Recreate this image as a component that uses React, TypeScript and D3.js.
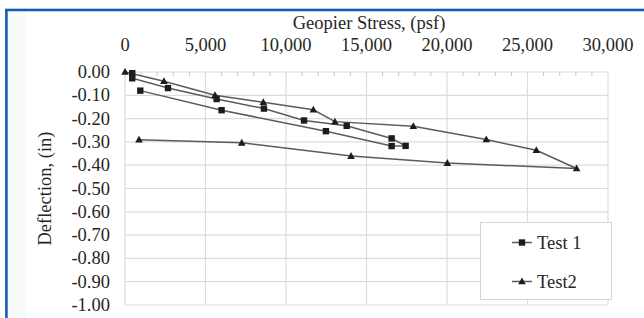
import React from "react";
import * as d3 from "d3";

const xTicks = [0, 5000, 10000, 15000, 20000, 25000, 30000];
const yTicks = [0, -0.1, -0.2, -0.3, -0.4, -0.5, -0.6, -0.7, -0.8, -0.9, -1.0];

const seriesNames = ["Test 1", "Test2"];
const test1Stress = [450, 450, 2670, 5690, 8630, 11120, 13770, 16560, 17430, 16560, 12480, 6000, 950];
const test1Defl = [-0.005, -0.027, -0.069, -0.116, -0.157, -0.208, -0.231, -0.285, -0.317, -0.318, -0.254, -0.164, -0.08];
const test2Stress = [0, 2420, 5590, 8590, 11700, 13040, 17910, 22440, 25550, 28050, 20020, 14040, 7250, 870];
const test2Defl = [0, -0.04, -0.1, -0.13, -0.162, -0.213, -0.233, -0.29, -0.336, -0.414, -0.391, -0.361, -0.304, -0.291];

const W = 644;
const H = 318;
const FONT = "'Liberation Serif', 'Times New Roman', serif";

export default function App() {
  const x = d3.scaleLinear().domain([0, 30000]).range([125, 608]);
  const y = d3.scaleLinear().domain([0, -1]).range([72, 305]);
  const fmt = d3.format(",");
  const yFmt = (t: number) => d3.format(".2f")(t).replace("\u2212", "-");
  const minor = d3.range(0, 30001, 1000).filter((v) => v % 5000 !== 0);

  const s1 = test1Stress.map((v, i) => [v, test1Defl[i]] as [number, number]);
  const s2 = test2Stress.map((v, i) => [v, test2Defl[i]] as [number, number]);
  const line = d3
    .line<[number, number]>()
    .x((d) => x(d[0]))
    .y((d) => y(d[1]));

  const lineColor = "#5b5b5b";
  const markColor = "#1c1c1c";
  const grid = "#dcdcdc";
  const txt = "#262626";

  const square = (cx: number, cy: number, k: string) => (
    <rect key={k} x={cx - 3.2} y={cy - 3.2} width={6.4} height={6.4} fill={markColor} />
  );
  const tri = (cx: number, cy: number, k: string) => (
    <path key={k} d={`M${cx},${cy - 4} L${cx + 3.8},${cy + 2.8} L${cx - 3.8},${cy + 2.8} Z`} fill={markColor} />
  );

  const lgX = 480.5;
  const lgY = 222.5;

  return (
    <svg
      width={W}
      height={H}
      style={{ position: "fixed", left: 0, top: 0, background: "#fff" }}
      fontFamily={FONT}
    >
      <rect x={0} y={0} width={W} height={H} fill="#fff" />
      <rect x={8} y={11} width={18} height={H - 11} fill="#f9fafc" />
      {/* blue frame */}
      <line x1={5} x2={W} y1={8.8} y2={8.8} stroke="#9db8dc" strokeWidth={1} />
      <line x1={5} x2={W} y1={10.2} y2={10.2} stroke="#0f5db4" strokeWidth={2.2} />
      <line x1={6.4} x2={6.4} y1={9} y2={H} stroke="#0f5db4" strokeWidth={2.6} />

      {/* gridlines */}
      {yTicks.map((t) => (
        <line key={"hy" + t} x1={x(0)} x2={x(30000)} y1={y(t)} y2={y(t)} stroke={grid} strokeWidth={1.2} />
      ))}
      {xTicks.map((t) => (
        <line key={"vx" + t} x1={x(t)} x2={x(t)} y1={y(0)} y2={y(-1)} stroke={grid} strokeWidth={1.2} />
      ))}
      {minor.map((t) => (
        <line key={"mx" + t} x1={x(t)} x2={x(t)} y1={y(0)} y2={y(0) + 4} stroke="#c8c8c8" strokeWidth={1} />
      ))}

      {/* x tick labels (top) */}
      {xTicks.map((t) => (
        <text key={"xl" + t} x={x(t)} y={51} textAnchor="middle" fontSize={18.5} fill={txt}>
          {fmt(t)}
        </text>
      ))}
      <text x={369} y={29} textAnchor="middle" fontSize={18.5} fill={txt}>
        Geopier Stress, (psf)
      </text>

      {/* y tick labels */}
      {yTicks.map((t) => (
        <text key={"yl" + t} x={110} y={y(t) + 6} textAnchor="end" fontSize={18.5} fill={txt}>
          {t === 0 ? "0.00" : yFmt(t)}
        </text>
      ))}
      <text
        transform={`translate(51, ${(y(0) + y(-1)) / 2}) rotate(-90)`}
        textAnchor="middle"
        fontSize={18.5}
        fill={txt}
      >
        Deflection, (in)
      </text>

      {/* series */}
      <path d={line(s1) || ""} fill="none" stroke={lineColor} strokeWidth={1.5} />
      <path d={line(s2) || ""} fill="none" stroke={lineColor} strokeWidth={1.5} />
      {s1.map((d, i) => square(x(d[0]), y(d[1]), "s" + i))}
      {s2.map((d, i) => tri(x(d[0]), y(d[1]), "t" + i))}

      {/* legend */}
      <rect x={lgX} y={lgY} width={131} height={77} fill="#fff" stroke="#d6d6d6" strokeWidth={1} />
      <line x1={512} x2={532} y1={242.5} y2={242.5} stroke={lineColor} strokeWidth={1.5} />
      {square(522, 242.5, "ls")}
      <text x={537} y={249} fontSize={18.5} fill={txt}>
        {seriesNames[0]}
      </text>
      <line x1={512} x2={532} y1={281.5} y2={281.5} stroke={lineColor} strokeWidth={1.5} />
      {tri(522, 281.5, "lt")}
      <text x={537} y={288} fontSize={18.5} fill={txt}>
        {seriesNames[1]}
      </text>
    </svg>
  );
}
